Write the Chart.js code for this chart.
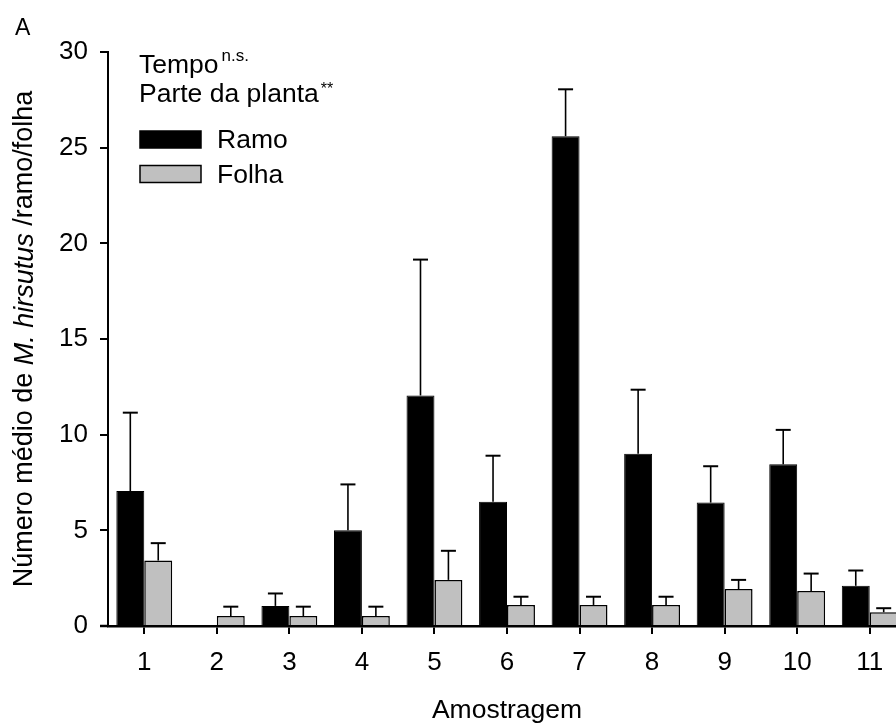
<!DOCTYPE html>
<html>
<head>
<meta charset="utf-8">
<script src="https://cdn.jsdelivr.net/npm/chart.js@4.4.0/dist/chart.umd.min.js"></script>
<style>
  html, body { margin: 0; padding: 0; background: #fff; overflow: hidden; }
  #wrap { width: 906px; height: 727px; }
</style>
</head>
<body>
<div id="wrap"><canvas id="grafico"></canvas></div>
<script>
// Dados
const amostragens = ['1', '2', '3', '4', '5', '6', '7', '8', '9', '10', '11'];
const ramoMedia = [7.05, 0, 1.05, 5.0, 12.05, 6.5, 25.6, 9.0, 6.45, 8.45, 2.1];
const ramoErro = [4.1, null, 0.65, 2.4, 7.1, 2.4, 2.45, 3.35, 1.9, 1.8, 0.8];
const folhaMedia = [3.42, 0.52, 0.52, 0.52, 2.41, 1.1, 1.1, 1.1, 1.93, 1.83, 0.72];
const folhaErro = [0.91, 0.49, 0.49, 0.49, 1.52, 0.43, 0.43, 0.43, 0.48, 0.91, 0.21];
const yTicks = [0, 5, 10, 15, 20, 25, 30];

const fonte = '"Liberation Sans", Arial, sans-serif';
const erros = [ramoErro, folhaErro];

// Barras de erro (só para cima)
const barrasErro = {
    id: 'barrasErro',
    afterDatasetsDraw(chart) {
        const ctx = chart.ctx;
        const y = chart.scales.y;
        ctx.save();
        ctx.strokeStyle = '#000';
        chart.data.datasets.forEach((ds, i) => {
            const meta = chart.getDatasetMeta(i);
            meta.data.forEach((bar, j) => {
                const ep = erros[i][j];
                if (ep == null || ep === 0) return;
                const topo = y.getPixelForValue(ds.data[j] + ep);
                ctx.lineWidth = 1.6;
                ctx.beginPath();
                ctx.moveTo(bar.x, bar.y);
                ctx.lineTo(bar.x, topo);
                ctx.stroke();
                ctx.lineWidth = 2;
                ctx.beginPath();
                ctx.moveTo(bar.x - 7.5, topo);
                ctx.lineTo(bar.x + 7.5, topo);
                ctx.stroke();
            });
        });
        ctx.restore();
    }
};

// Textos: letra do painel, título do eixo y e legenda
const textos = {
    id: 'textos',
    afterDraw(chart) {
        const ctx = chart.ctx;
        const area = chart.chartArea;
        ctx.save();
        ctx.fillStyle = '#000';
        ctx.strokeStyle = '#000';

        // prolongamento do eixo x para a esquerda
        ctx.lineWidth = 2.5;
        ctx.beginPath();
        ctx.moveTo(100, area.bottom);
        ctx.lineTo(area.left, area.bottom);
        ctx.stroke();

        // letra A
        ctx.font = '23px ' + fonte;
        ctx.textBaseline = 'alphabetic';
        ctx.textAlign = 'left';
        ctx.fillText('A', 15, 35);

        // título do eixo y com parte em itálico
        const partes = [
            ['Número médio de ', 'normal'],
            ['M. hirsutus', 'italic'],
            [' /ramo/folha', 'normal']
        ];
        let total = 0;
        partes.forEach(p => {
            ctx.font = p[1] + ' 27px ' + fonte;
            total += ctx.measureText(p[0]).width;
        });
        ctx.translate(25, (area.top + area.bottom) / 2);
        ctx.rotate(-Math.PI / 2);
        ctx.textBaseline = 'middle';
        let px = -total / 2;
        partes.forEach(p => {
            ctx.font = p[1] + ' 27px ' + fonte;
            ctx.fillText(p[0], px, 0);
            px += ctx.measureText(p[0]).width;
        });
        ctx.setTransform(1, 0, 0, 1, 0, 0);

        // legenda
        ctx.textBaseline = 'alphabetic';
        ctx.font = '26.5px ' + fonte;
        ctx.fillText('Tempo', 139, 73);
        let w = ctx.measureText('Tempo').width;
        ctx.font = '17px ' + fonte;
        ctx.fillText('n.s.', 139 + w + 3, 61);
        ctx.font = '26.5px ' + fonte;
        ctx.fillText('Parte da planta', 139, 102);
        w = ctx.measureText('Parte da planta').width;
        ctx.font = '16px ' + fonte;
        ctx.fillText('**', 139 + w + 2, 94);

        ctx.font = '26.5px ' + fonte;
        chart.data.datasets.forEach((ds, i) => {
            const yy = 131 + i * 34.5;
            ctx.fillStyle = ds.backgroundColor;
            ctx.fillRect(140, yy, 61, 17);
            ctx.lineWidth = 1.5;
            ctx.strokeStyle = '#000';
            ctx.strokeRect(140, yy, 61, 17);
            ctx.fillStyle = '#000';
            ctx.fillText(ds.label, 217, yy + 17);
        });
        ctx.restore();
    }
};

new Chart(document.getElementById('grafico'), {
    type: 'bar',
    data: {
        labels: amostragens,
        datasets: [{
            label: 'Ramo',
            data: ramoMedia,
            backgroundColor: '#000000',
            borderColor: '#000000',
            borderWidth: 1
        }, {
            label: 'Folha',
            data: folhaMedia,
            backgroundColor: '#c0c0c0',
            borderColor: '#000000',
            borderWidth: 1.5
        }]
    },
    options: {
        responsive: true,
        maintainAspectRatio: false,
        animation: false,
        events: [],
        layout: { padding: { top: 52, left: 0, right: 0, bottom: 0 } },
        datasets: {
            bar: { barPercentage: 1, categoryPercentage: 0.77 }
        },
        plugins: {
            legend: { display: false },
            tooltip: { enabled: false }
        },
        scales: {
            x: {
                offset: true,
                grid: {
                    offset: false,
                    drawOnChartArea: false,
                    drawTicks: true,
                    tickLength: 8,
                    color: '#000',
                    lineWidth: 2
                },
                border: { display: true, color: '#000', width: 2.5 },
                ticks: {
                    color: '#000',
                    font: { family: fonte, size: 26 },
                    padding: 13,
                    maxRotation: 0
                },
                title: {
                    display: true,
                    text: 'Amostragem',
                    color: '#000',
                    font: { family: fonte, size: 26.5 },
                    padding: { top: 0, bottom: 0 }
                },
                afterFit(scale) { scale.height = 101; }
            },
            y: {
                min: 0,
                max: 30,
                afterBuildTicks(scale) {
                    scale.ticks = yTicks.map(v => ({ value: v }));
                },
                grid: {
                    drawOnChartArea: false,
                    drawTicks: true,
                    tickLength: 8,
                    color: '#000',
                    lineWidth: 2
                },
                border: { display: true, color: '#000', width: 2 },
                ticks: {
                    color: '#000',
                    font: { family: fonte, size: 26 },
                    padding: 12
                },
                afterFit(scale) { scale.width = 108; }
            }
        }
    },
    plugins: [barrasErro, textos]
});
</script>
</body>
</html>
